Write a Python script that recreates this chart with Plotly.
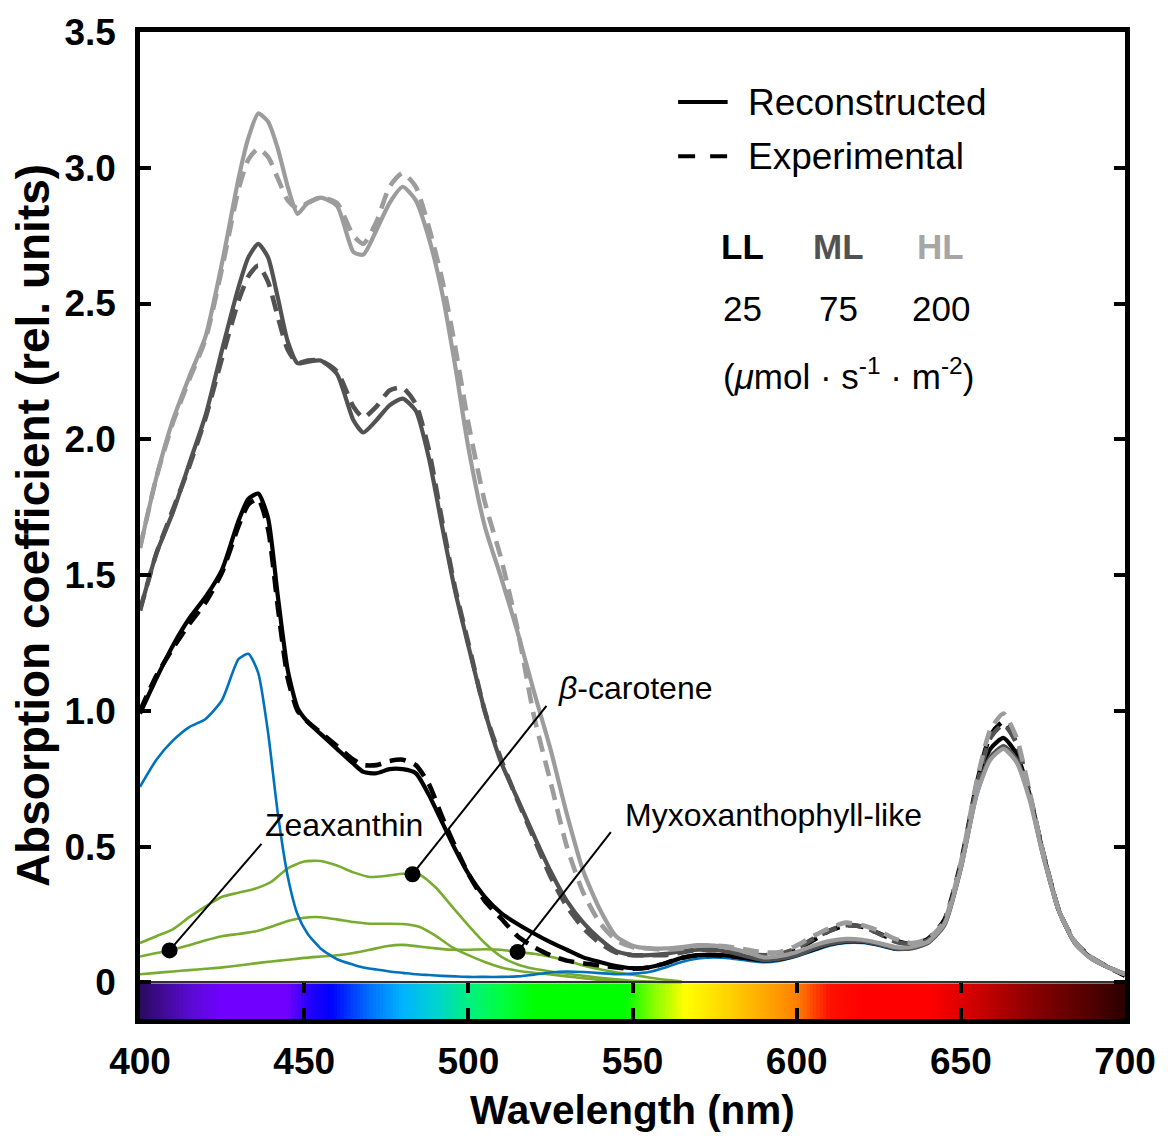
import numpy as np
import plotly.graph_objects as go

FONT = "Arial, 'Liberation Sans', Helvetica, sans-serif"

# ---- wavelength grid for the whole-cell spectra (nm) ----
wl = [400, 405, 410, 415, 420, 425, 430, 433, 436, 439,
      442, 445, 448, 451, 455, 460, 465, 468, 472, 476,
      480, 484, 488, 492, 496, 500, 505, 510, 515, 520,
      525, 530, 535, 540, 545, 550, 555, 560, 565, 570,
      575, 580, 585, 590, 595, 600, 605, 610, 615, 620,
      625, 630, 635, 640, 645, 650, 655, 659, 663, 667,
      671, 675, 680, 685, 690, 695, 700]

# high light (200)
hl_rec = [1.60, 1.86, 2.07, 2.23, 2.38, 2.65, 2.96, 3.11, 3.20, 3.17,
          3.07, 2.93, 2.83, 2.87, 2.89, 2.86, 2.69, 2.68, 2.77, 2.87,
          2.93, 2.88, 2.74, 2.54, 2.27, 1.97, 1.68, 1.49, 1.29, 1.07,
          0.86, 0.62, 0.41, 0.27, 0.17, 0.135, 0.125, 0.125, 0.13, 0.137,
          0.135, 0.125, 0.11, 0.092, 0.097, 0.112, 0.135, 0.152, 0.16, 0.157,
          0.145, 0.13, 0.13, 0.15, 0.215, 0.42, 0.70, 0.82, 0.86, 0.81,
          0.67, 0.47, 0.26, 0.14, 0.085, 0.055, 0.03]
hl_exp = [1.60, 1.86, 2.06, 2.22, 2.37, 2.63, 2.92, 3.03, 3.07, 3.04,
          2.96, 2.88, 2.85, 2.87, 2.89, 2.87, 2.75, 2.72, 2.80, 2.93,
          2.98, 2.93, 2.78, 2.59, 2.34, 2.06, 1.77, 1.56, 1.30, 0.98,
          0.74, 0.50, 0.33, 0.22, 0.155, 0.13, 0.125, 0.12, 0.125, 0.135,
          0.135, 0.13, 0.12, 0.11, 0.112, 0.135, 0.17, 0.20, 0.22, 0.21,
          0.19, 0.16, 0.145, 0.16, 0.225, 0.44, 0.75, 0.93, 0.99, 0.90,
          0.70, 0.48, 0.26, 0.145, 0.09, 0.055, 0.03]

# medium light (75)
ml_rec = [1.37, 1.58, 1.73, 1.91, 2.09, 2.33, 2.56, 2.67, 2.72, 2.67,
          2.52, 2.36, 2.28, 2.285, 2.29, 2.24, 2.07, 2.025, 2.07, 2.125,
          2.15, 2.105, 1.93, 1.68, 1.44, 1.24, 1.00, 0.81, 0.675, 0.54,
          0.41, 0.30, 0.22, 0.16, 0.115, 0.10, 0.10, 0.105, 0.115, 0.12,
          0.12, 0.11, 0.095, 0.082, 0.087, 0.10, 0.123, 0.142, 0.152, 0.152,
          0.14, 0.125, 0.125, 0.145, 0.21, 0.42, 0.71, 0.83, 0.87, 0.82,
          0.68, 0.47, 0.26, 0.14, 0.085, 0.055, 0.03]
ml_exp = [1.37, 1.58, 1.74, 1.90, 2.08, 2.30, 2.51, 2.60, 2.64, 2.58,
          2.45, 2.33, 2.28, 2.29, 2.29, 2.25, 2.12, 2.08, 2.12, 2.18,
          2.19, 2.13, 1.96, 1.70, 1.45, 1.25, 1.00, 0.82, 0.67, 0.53,
          0.39, 0.28, 0.20, 0.145, 0.11, 0.10, 0.10, 0.10, 0.11, 0.12,
          0.12, 0.115, 0.105, 0.10, 0.105, 0.125, 0.16, 0.19, 0.21, 0.205,
          0.18, 0.15, 0.14, 0.155, 0.22, 0.43, 0.73, 0.90, 0.95, 0.88,
          0.69, 0.48, 0.26, 0.145, 0.09, 0.055, 0.03]

# low light (25)
ll_rec = [0.99, 1.12, 1.24, 1.34, 1.42, 1.52, 1.70, 1.78, 1.80, 1.71,
          1.42, 1.15, 1.01, 0.96, 0.915, 0.86, 0.805, 0.775, 0.77, 0.785,
          0.785, 0.77, 0.69, 0.59, 0.49, 0.40, 0.315, 0.255, 0.215, 0.18,
          0.148, 0.12, 0.092, 0.075, 0.06, 0.052, 0.055, 0.07, 0.09, 0.10,
          0.102, 0.097, 0.088, 0.08, 0.085, 0.10, 0.12, 0.14, 0.15, 0.15,
          0.14, 0.125, 0.13, 0.15, 0.22, 0.43, 0.72, 0.86, 0.90, 0.84,
          0.69, 0.48, 0.26, 0.14, 0.088, 0.055, 0.03]
ll_exp = [1.00, 1.13, 1.23, 1.32, 1.40, 1.51, 1.68, 1.76, 1.78, 1.67,
          1.38, 1.12, 1.00, 0.96, 0.92, 0.87, 0.82, 0.80, 0.80, 0.815,
          0.82, 0.80, 0.73, 0.61, 0.50, 0.40, 0.30, 0.235, 0.17, 0.13,
          0.10, 0.08, 0.07, 0.062, 0.055, 0.05, 0.055, 0.07, 0.09, 0.10,
          0.10, 0.097, 0.09, 0.085, 0.095, 0.12, 0.155, 0.19, 0.21, 0.205,
          0.18, 0.155, 0.14, 0.16, 0.23, 0.44, 0.74, 0.91, 0.96, 0.88,
          0.69, 0.48, 0.26, 0.145, 0.09, 0.055, 0.025]

# chlorophyll component
chl_a = [0.72, 0.82, 0.89, 0.94, 0.97, 1.04, 1.19, 1.21, 1.14, 0.92,
         0.62, 0.39, 0.25, 0.18, 0.125, 0.085, 0.065, 0.055, 0.047, 0.04,
         0.035, 0.03, 0.027, 0.024, 0.022, 0.02, 0.02, 0.02, 0.022, 0.028,
         0.036, 0.04, 0.038, 0.034, 0.03, 0.032, 0.038, 0.055, 0.075, 0.088,
         0.092, 0.088, 0.08, 0.074, 0.08, 0.095, 0.115, 0.135, 0.145, 0.145,
         0.135, 0.12, 0.125, 0.145, 0.21, 0.41, 0.69, 0.82, 0.86, 0.81,
         0.67, 0.47, 0.26, 0.14, 0.085, 0.055, 0.03]

# ---- carotenoid components ----
wl_car = [400, 405, 410, 415, 420, 425, 430, 435, 440, 445,
          450, 455, 460, 465, 470, 475, 480, 485, 490, 495,
          500, 505, 510, 515, 520, 525, 530, 535, 540, 545,
          550, 555, 560, 565]
beta_carotene = [0.145, 0.17, 0.195, 0.24, 0.28, 0.315, 0.33, 0.345, 0.37, 0.42,
                 0.445, 0.447, 0.43, 0.405, 0.388, 0.392, 0.40, 0.397, 0.35, 0.28,
                 0.21, 0.145, 0.095, 0.066, 0.05, 0.04, 0.032, 0.024, 0.017, 0.011,
                 0.006, 0.003, 0.001, 0.0]
zeaxanthin = [0.095, 0.108, 0.12, 0.137, 0.155, 0.17, 0.178, 0.187, 0.205, 0.226,
              0.238, 0.24, 0.232, 0.222, 0.216, 0.216, 0.215, 0.205, 0.172, 0.13,
              0.10, 0.075, 0.055, 0.043, 0.035, 0.029, 0.022, 0.015, 0.009, 0.005,
              0.002, 0.001, 0.0, 0.0]
myxoxanthophyll = [0.03, 0.035, 0.04, 0.045, 0.05, 0.055, 0.062, 0.07, 0.077, 0.083,
                   0.09, 0.095, 0.10, 0.108, 0.12, 0.133, 0.138, 0.132, 0.125, 0.12,
                   0.12, 0.122, 0.12, 0.112, 0.105, 0.094, 0.08, 0.062, 0.048, 0.037,
                   0.028, 0.018, 0.009, 0.003]

# label callouts: (text, curve, wavelength of the marker, leader end x, y, label x, y)
callouts = [
    ("Zeaxanthin", zeaxanthin, 409, 437.0, 0.51, 437.6, 0.578),
    ("<i>β</i>-carotene", beta_carotene, 483, 523.8, 1.018, 526.6, 1.084),
    ("Myxoxanthophyll-like", myxoxanthophyll, 515, 543.4, 0.553, 547.2, 0.618),
]

# visible-spectrum strip colours
spec_wl = [400, 415, 425, 445, 452, 458, 470, 480, 490, 500, 510, 520, 548,
           556, 566, 580, 600, 610, 620, 640, 650, 670, 690, 700]
spec_col = ["#2a0a5e", "#5a0ad0", "#7000ff", "#7000ff", "#2000ff", "#0000ff",
            "#0070ff", "#00b4ff", "#00d2d2", "#00f080", "#00ff40", "#00ff00",
            "#00ff00", "#80ff00", "#ffff00", "#ffd000", "#ff8000", "#ff1000",
            "#ff0000", "#ff0000", "#e00000", "#900000", "#500000", "#2a0000"]

LL_C, ML_C, HL_C = "#000000", "#525252", "#9c9c9c"
GREEN, BLUE = "#77AC30", "#0072BD"
DASH = "16px,9px"
Y_MIN, Y_MAX = -0.135, 3.5

fig = go.Figure()

for ys in (beta_carotene, zeaxanthin, myxoxanthophyll):
    fig.add_trace(go.Scatter(x=wl_car, y=ys, mode="lines", showlegend=False,
                             hoverinfo="skip",
                             line=dict(color=GREEN, width=2.6, shape="spline", smoothing=0.6)))
fig.add_trace(go.Scatter(x=wl, y=chl_a, mode="lines", showlegend=False, hoverinfo="skip",
                         line=dict(color=BLUE, width=2.6, shape="spline", smoothing=0.6)))

for rec, exp, col in ((ll_rec, ll_exp, LL_C), (ml_rec, ml_exp, ML_C), (hl_rec, hl_exp, HL_C)):
    fig.add_trace(go.Scatter(x=wl, y=rec, mode="lines", showlegend=False, hoverinfo="skip",
                             line=dict(color=col, width=4.2, shape="spline", smoothing=0.6)))
    fig.add_trace(go.Scatter(x=wl, y=exp, mode="lines", showlegend=False, hoverinfo="skip",
                             line=dict(color=col, width=4.6, dash=DASH, shape="spline",
                                       smoothing=0.6)))

# callout markers, leader lines and labels
dot_x = [c[2] for c in callouts]
dot_y = [float(np.interp(c[2], wl_car, c[1])) for c in callouts]
fig.add_trace(go.Scatter(x=dot_x, y=dot_y, mode="markers", showlegend=False, hoverinfo="skip",
                         marker=dict(color="black", size=16)))
shapes = []
annotations = []
for (text, ys, wx, lx, ly, tx, ty), dy in zip(callouts, dot_y):
    shapes.append(dict(type="line", xref="x", yref="y", x0=wx, y0=dy, x1=lx, y1=ly,
                       line=dict(color="black", width=2)))
    annotations.append(dict(x=tx, y=ty, xref="x", yref="y", text=text, showarrow=False,
                            xanchor="left", yanchor="middle",
                            font=dict(family=FONT, size=32, color="black")))

# spectrum strip below zero
edges = list(range(400, 701))
centres = [[e + 0.5 for e in edges[:-1]]]
cscale = [[(w - 400) / 300, c] for w, c in zip(spec_wl, spec_col)]
fig.add_trace(go.Heatmap(x=edges, y=[Y_MIN, -0.004], z=centres, zmin=400, zmax=700,
                         colorscale=cscale, showscale=False, hoverinfo="skip",
                         xaxis="x2", yaxis="y"))

# legend keys
shapes.append(dict(type="line", xref="paper", yref="paper", x0=0.5463, x1=0.5966,
                   y0=0.929, y1=0.929, line=dict(color="black", width=4)))
shapes.append(dict(type="line", xref="paper", yref="paper", x0=0.5463, x1=0.5966,
                   y0=0.874, y1=0.874, line=dict(color="black", width=4, dash="17px,15px")))

def note(text, x, y, size=37, color="black", bold=False, xanchor="left"):
    annotations.append(dict(x=x, y=y, xref="paper", yref="paper", text=text,
                            showarrow=False, xanchor=xanchor, yanchor="middle",
                            font=dict(family=FONT, size=size, color=color,
                                      weight="bold" if bold else "normal")))

note("Reconstructed", 0.6157, 0.929)
note("Experimental", 0.6157, 0.874)
for lab, val, x, col in (("LL", "25", 0.6112, LL_C), ("ML", "75", 0.7093, ML_C),
                         ("HL", "200", 0.8129, "#a6a6a6")):
    note(lab, x, 0.783, size=35, bold=True, color=col, xanchor="center")
    note(val, x, 0.720, size=35, xanchor="center")
note("(<i>μ</i>mol · s<sup>-1</sup> · m<sup>-2</sup>)", 0.7188, 0.654, size=35,
     xanchor="center")

fig.update_layout(
    width=1168, height=1139,
    margin=dict(l=140, r=34, t=26, b=113),
    paper_bgcolor="white", plot_bgcolor="white",
    showlegend=False,
    shapes=shapes, annotations=annotations,
    xaxis=dict(range=[400, 700], tickvals=list(range(400, 701, 50)),
               ticks="inside", ticklen=11, tickwidth=4, tickcolor="black",
               showline=True, linewidth=4.5, linecolor="black", mirror=True,
               showgrid=False, zeroline=False, ticklabelstandoff=6,
               tickfont=dict(family=FONT, size=37, color="black", weight="bold"),
               title=dict(text="Wavelength (nm)", standoff=16,
                          font=dict(family=FONT, size=40.5, color="black", weight="bold"))),
    xaxis2=dict(range=[400, 700], overlaying="x", anchor="free",
                position=-Y_MIN / (Y_MAX - Y_MIN), side="top",
                tickvals=list(range(450, 651, 50)), ticks="inside", ticklen=10,
                tickwidth=4, tickcolor="black", showticklabels=False,
                showline=True, linewidth=2, linecolor="#303030",
                showgrid=False, zeroline=False),
    yaxis=dict(range=[Y_MIN, Y_MAX], tickvals=[0, 0.5, 1, 1.5, 2, 2.5, 3, 3.5],
               ticktext=["0", "0.5", "1.0", "1.5", "2.0", "2.5", "3.0", "3.5"],
               ticks="inside", ticklen=11, tickwidth=4, tickcolor="black",
               showline=True, linewidth=4.5, linecolor="black", mirror="ticks",
               showgrid=False, zeroline=False, ticklabelstandoff=12,
               tickfont=dict(family=FONT, size=37, color="black", weight="bold"),
               title=dict(text="Absorption coefficient (rel. units)", standoff=2,
                          font=dict(family=FONT, size=46, color="black", weight="bold"))),
)

fig.write_html("out.html")
